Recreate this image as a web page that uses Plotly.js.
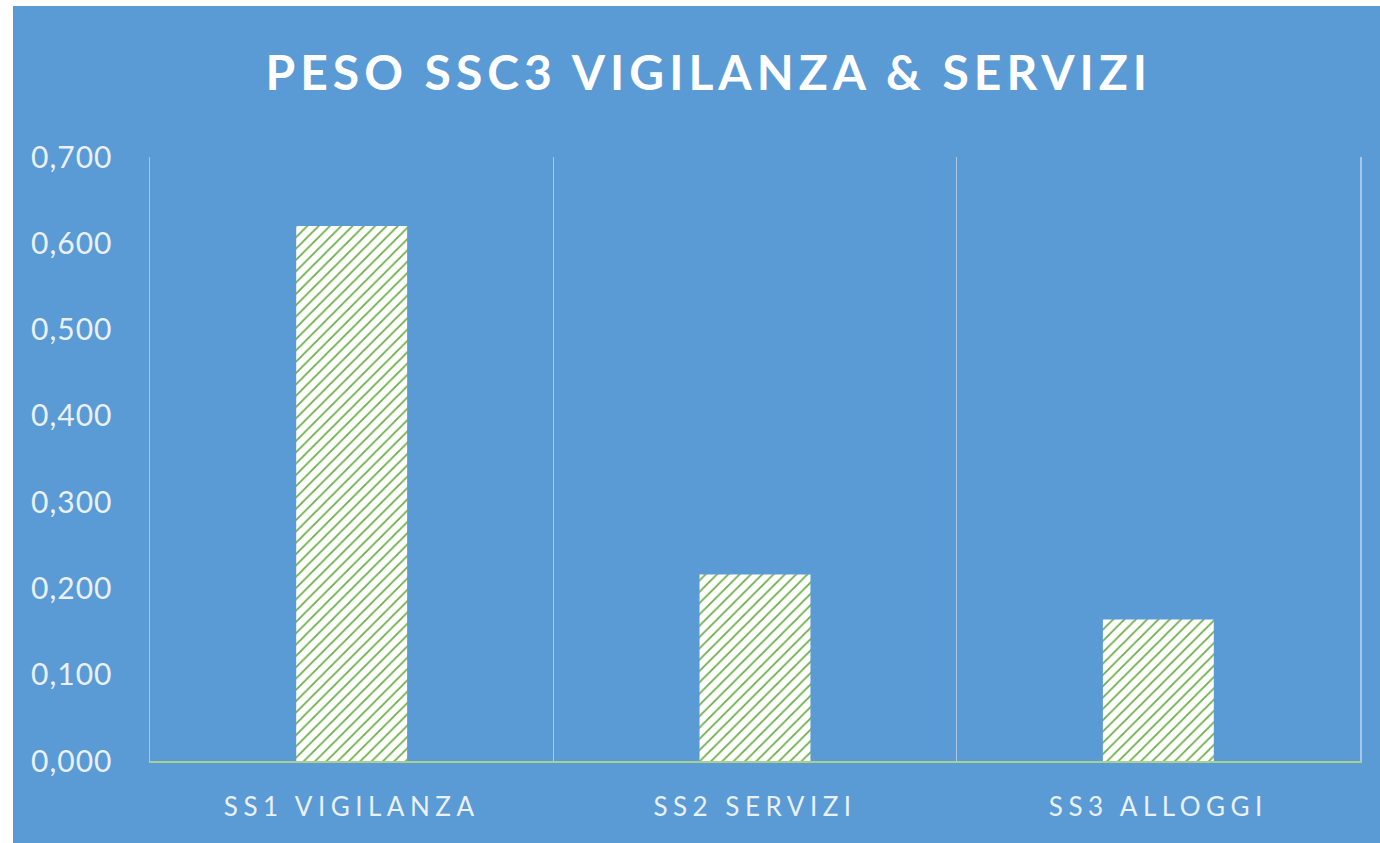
<!DOCTYPE html>
<html>
<head>
<meta charset="utf-8">
<script src="https://cdn.plot.ly/plotly-3.0.1.min.js"></script>
<style>
  html, body { margin: 0; padding: 0; background: #ffffff; width: 1380px; height: 843px; overflow: hidden; }
  #chart { position: absolute; left: 13px; top: 6px; width: 1367px; height: 837px; }
  .gtitle { letter-spacing: 5px; }
  .xtick text { letter-spacing: 5.5px; }
  .ytick text { letter-spacing: 1px; }
</style>
</head>
<body>
<div id="chart"></div>
<script>
const categories = ["SS1 VIGILANZA", "SS2 SERVIZI", "SS3 ALLOGGI"];
const values = [0.620, 0.216, 0.164];
const titleText = "PESO SSC3 VIGILANZA &amp; SERVIZI";
const yTickValues = [0, 0.1, 0.2, 0.3, 0.4, 0.5, 0.6, 0.7];

const trace = {
  type: "bar",
  x: categories,
  y: values,
  marker: {
    color: "#ffffff",
    line: { width: 0 },
    pattern: { shape: "/", fgcolor: "#6AAE45", bgcolor: "#ffffff", size: 8, solidity: 0.22 }
  },
  hoverinfo: "none"
};

const layout = {
  width: 1367,
  height: 837,
  paper_bgcolor: "#5B9BD5",
  plot_bgcolor: "#5B9BD5",
  margin: { l: 137, r: 20, t: 151, b: 82 },
  bargap: 0.725,
  showlegend: false,
  separators: ",.",
  title: {
    text: titleText,
    font: { family: "Lato, 'Open Sans', sans-serif", size: 48, color: "#ffffff", weight: "bold" },
    x: 0.509, xanchor: "center",
    y: 0.92, yref: "container", yanchor: "middle"
  },
  xaxis: {
    type: "category",
    tickson: "boundaries",
    showgrid: true,
    gridcolor: "#A8C8E8",
    gridwidth: 1.5,
    showline: true,
    linecolor: "#A9D18E",
    linewidth: 2,
    ticks: "",
    ticklabelstandoff: 22,
    tickfont: { family: "Lato, 'Open Sans', sans-serif", size: 26, color: "#EAF1FA" },
    range: [-0.5, 2.5],
    zeroline: false
  },
  yaxis: {
    range: [0, 0.7],
    tickvals: yTickValues,
    tickformat: ".3f",
    showgrid: false,
    zeroline: false,
    showline: true,
    mirror: true,
    linecolor: "#A8C8E8",
    linewidth: 1.5,
    ticks: "",
    ticklabelstandoff: 30,
    tickfont: { family: "Lato, 'Open Sans', sans-serif", size: 30, color: "#EAF1FA" }
  }
};

Plotly.newPlot("chart", [trace], layout, { displayModeBar: false, staticPlot: true });
</script>
</body>
</html>
